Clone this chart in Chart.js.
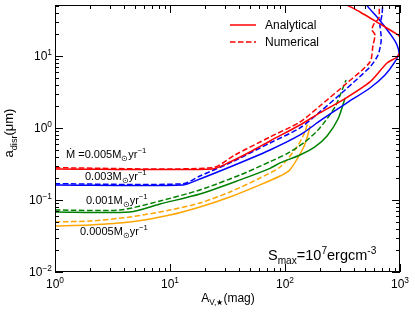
<!DOCTYPE html>
<html>
<head>
<meta charset="utf-8">
<script src="https://cdn.jsdelivr.net/npm/chart.js@4"></script>
<style>
  html, body { margin: 0; padding: 0; background: #fff; }
  #wrap { width: 415px; height: 313px; }
</style>
</head>
<body>
<div id="wrap"><canvas id="chart" width="415" height="313"></canvas></div>
<script>
// axis ranges and tick labels
const xRange = [1, 1000];
const yRange = [0.01, 51];
const xTicks = [1, 10, 100, 1000];
const xTickExp = ['0', '1', '2', '3'];
const yTicks = [0.01, 0.1, 1, 10];
const yTickExp = ['\u22122', '\u22121', '0', '1'];

// [A_V, a_disr]
const red005Analytical = [[1,0.27],[23.2,0.27],[33.2,0.337],[49.6,0.464],[74.1,0.66],[135,1.10],[201,1.62],[319,2.45],[548,4.36],[771,8.0],[942,9.68],[1041,12.9],[1104,15.6],[1000,18.3],[962,19.6],[670,27.8],[449,40.8],[346,51],[289,60]];
const red005Numerical = [[1,0.28],[23.2,0.28],[36.7,0.422],[74.1,0.75],[135,1.21],[201,2.02],[346,4.22],[548,8.25],[582,14.0],[606,19.6],[571,23.0],[594,27.8],[656,33.7],[656,60]];
const blue003Analytical = [[1,0.162],[13.0,0.162],[18.2,0.196],[33.2,0.287],[74.1,0.495],[135,0.80],[201,1.25],[333,2.15],[548,3.59],[741,5.45],[902,8.25],[980,11.0],[942,14.2],[869,17.8],[741,25.3],[631,34.8],[527,48],[486,60]];
const blue003Numerical = [[1,0.168],[13.0,0.168],[18.2,0.215],[33.2,0.327],[74.1,0.619],[135,1.0],[201,1.67],[333,3.37],[548,7.03],[644,10.3],[684,15.6],[684,19.6],[670,27],[697,37.1],[711,60]];
const green001Analytical = [[1,0.068],[4.49,0.068],[8.19,0.088],[18.2,0.121],[40.6,0.19],[74.1,0.275],[90.5,0.327],[135,0.422],[182,0.545],[232,0.774],[289,1.33],[333,2.61]];
const green001Numerical = [[1,0.0726],[3.67,0.0726],[8.19,0.0969],[18.2,0.138],[40.6,0.222],[74.1,0.34],[104,0.44],[149,0.64],[201,1.0],[272,1.96],[319,3.59],[339,4.64]];
const orange0005Analytical = [[1,0.0435],[2.02,0.045],[4.49,0.0495],[10,0.0619],[18.2,0.080],[33.2,0.110],[60.6,0.162],[90.5,0.215],[110,0.261],[144,0.527],[158,0.80],[165,1.07]];
const orange0005Numerical = [[1,0.0495],[2.02,0.0511],[4.49,0.058],[10,0.0726],[18.2,0.0908],[33.2,0.129],[60.6,0.202],[90.5,0.287],[127,0.545],[149,0.88],[158,1.21]];

const FONT = '"Liberation Sans", Arial, sans-serif';
const DASH = [5.5, 2.5];

function toPoints(arr) {
    return arr.map(p => ({ x: p[0], y: p[1] }));
}

function series(data, color, dashed) {
    return {
        data: toPoints(data),
        borderColor: color,
        borderWidth: 1.5,
        borderDash: dashed ? DASH : [],
        showLine: true,
        pointRadius: 0,
        tension: 0.25,
        fill: false
    };
}

// measure / draw text made of normal, sub and sup pieces
function richWidth(ctx, parts, size) {
    let w = 0;
    parts.forEach(p => {
        const s = p[1] === 'n' ? size : size * 0.7;
        ctx.font = s + 'px ' + FONT;
        w += ctx.measureText(p[0]).width;
    });
    return w;
}

function drawRich(ctx, parts, x, y, size, align) {
    const w = richWidth(ctx, parts, size);
    let cx = x;
    if (align === 'center') cx = x - w / 2;
    else if (align === 'right') cx = x - w;
    ctx.textAlign = 'left';
    ctx.textBaseline = 'alphabetic';
    parts.forEach(p => {
        let s = size, dy = 0;
        if (p[1] === 'sub') { s = size * 0.7; dy = size * 0.28; }
        if (p[1] === 'sup') { s = size * 0.7; dy = -size * 0.42; }
        ctx.font = s + 'px ' + FONT;
        ctx.fillText(p[0], cx, y + dy);
        cx += ctx.measureText(p[0]).width;
    });
}

function mdotParts(val, withDot) {
    const parts = [];
    if (withDot) parts.push(['\u1E40 =', 'n']);
    parts.push([val + 'M', 'n'], ['\u2299', 'sub'], ['yr', 'n'], ['\u22121', 'sup']);
    return parts;
}

const decorPlugin = {
    id: 'decor',
    afterDraw(chart) {
        const ctx = chart.ctx;
        const a = chart.chartArea;
        const xs = chart.scales.x, ys = chart.scales.y;
        ctx.save();
        ctx.fillStyle = '#000';
        ctx.strokeStyle = '#000';
        ctx.lineWidth = 1;

        // frame
        ctx.strokeRect(a.left + 0.5, a.top + 0.5, a.right - a.left - 1, a.bottom - a.top - 1);

        // inward ticks on all four sides
        ctx.beginPath();
        for (let d = -3; d <= 3; d++) {
            for (let m = 1; m <= 9; m++) {
                const v = m * Math.pow(10, d);
                const len = m === 1 ? 8 : 4;
                if (v >= xRange[0] && v <= xRange[1]) {
                    const px = Math.round(xs.getPixelForValue(v)) + 0.5;
                    ctx.moveTo(px, a.bottom); ctx.lineTo(px, a.bottom - len);
                    ctx.moveTo(px, a.top); ctx.lineTo(px, a.top + len);
                }
                if (v >= yRange[0] && v <= yRange[1]) {
                    const py = Math.round(ys.getPixelForValue(v)) + 0.5;
                    ctx.moveTo(a.left, py); ctx.lineTo(a.left + len, py);
                    ctx.moveTo(a.right, py); ctx.lineTo(a.right - len, py);
                }
            }
        }
        ctx.stroke();

        // tick labels
        xTicks.forEach((v, i) => {
            drawRich(ctx, [['10', 'n'], [xTickExp[i], 'sup']], xs.getPixelForValue(v), a.bottom + 16, 12, 'center');
        });
        yTicks.forEach((v, i) => {
            drawRich(ctx, [['10', 'n'], [yTickExp[i], 'sup']], a.left - 3, ys.getPixelForValue(v) + 4, 12, 'right');
        });

        // axis titles
        drawRich(ctx, [['A', 'n'], ['V,\u2605', 'sub'], ['(mag)', 'n']], 228, 302, 12, 'center');
        ctx.save();
        ctx.translate(13, 133);
        ctx.rotate(-Math.PI / 2);
        drawRich(ctx, [['a', 'n'], ['disr', 'sub'], ['(\u03BCm)', 'n']], 0, 0, 13, 'center');
        ctx.restore();

        // curve labels
        drawRich(ctx, mdotParts('0.005', true), 66, 158, 11, 'left');
        drawRich(ctx, mdotParts('0.003', false), 85, 180, 11, 'left');
        drawRich(ctx, mdotParts('0.001', false), 86, 204, 11, 'left');
        drawRich(ctx, mdotParts('0.0005', false), 80, 235, 11, 'left');
        drawRich(ctx, [['S', 'n'], ['max', 'sub'], ['=10', 'n'], ['7', 'sup'], ['ergcm', 'n'], ['-3', 'sup']], 268, 260, 14.5, 'left');

        // legend
        ctx.strokeStyle = '#ff0000';
        ctx.lineWidth = 1.5;
        ctx.beginPath(); ctx.moveTo(230, 25); ctx.lineTo(256, 25); ctx.stroke();
        ctx.setLineDash(DASH);
        ctx.beginPath(); ctx.moveTo(230, 42); ctx.lineTo(256, 42); ctx.stroke();
        ctx.setLineDash([]);
        ctx.fillStyle = '#000';
        drawRich(ctx, [['Analytical', 'n']], 265, 29, 12, 'left');
        drawRich(ctx, [['Numerical', 'n']], 265, 46, 12, 'left');
        ctx.restore();
    }
};

new Chart(document.getElementById('chart'), {
    type: 'scatter',
    data: {
        datasets: [
            series(red005Analytical, '#ff0000', false),
            series(red005Numerical, '#ff0000', true),
            series(blue003Analytical, '#0000ff', false),
            series(blue003Numerical, '#0000ff', true),
            series(green001Analytical, '#008000', false),
            series(green001Numerical, '#008000', true),
            series(orange0005Analytical, '#ffa500', false),
            series(orange0005Numerical, '#ffa500', true)
        ]
    },
    options: {
        responsive: false,
        animation: false,
        layout: { padding: { left: 55, right: 15, top: 5, bottom: 41 } },
        plugins: { legend: { display: false }, tooltip: { enabled: false } },
        scales: {
            x: { type: 'logarithmic', min: xRange[0], max: xRange[1], display: false },
            y: { type: 'logarithmic', min: yRange[0], max: yRange[1], display: false }
        }
    },
    plugins: [decorPlugin]
});
</script>
</body>
</html>
